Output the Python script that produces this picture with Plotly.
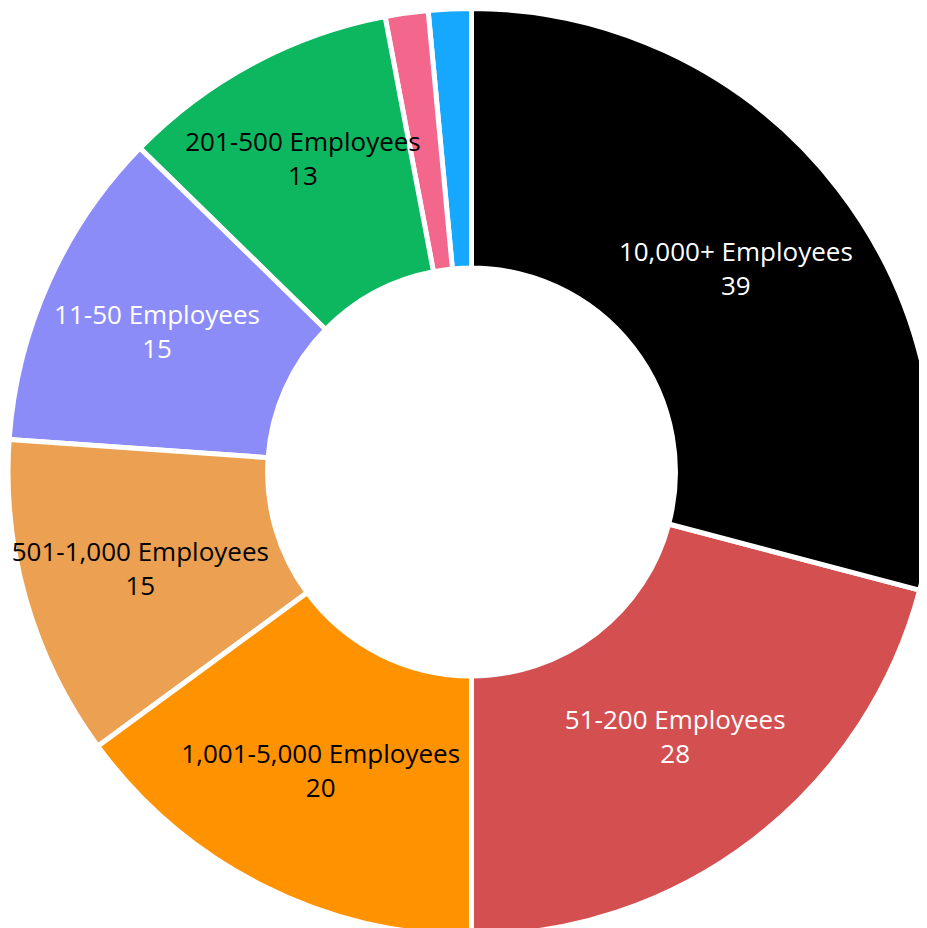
import plotly.graph_objects as go

# Listed in drawing order (counter-clockwise from 12 o'clock), so the
# 201-500 label is drawn above the thin neighbouring slices.
labels = ["1-10 Employees", "5,001-10,000 Employees", "201-500 Employees",
          "11-50 Employees", "501-1,000 Employees", "1,001-5,000 Employees",
          "51-200 Employees", "10,000+ Employees"]
values = [2, 2, 13, 15, 15, 20, 28, 39]
colors = ["#16a7ff", "#f2678b", "#0db760", "#8c8cf8", "#eca052", "#ff9200", "#d44f50", "#000000"]
text_colors = ["black", "black", "black", "white", "black", "black", "white", "white"]
show_text = [False, False, True, True, True, True, True, True]

templates = ["%{label}<br>%{value}" if s else "" for s in show_text]
first_angle = -360.0 * values[0] / sum(values)

fig = go.Figure(go.Pie(
    labels=labels,
    values=values,
    hole=0.44,
    sort=False,
    direction="counterclockwise",
    rotation=first_angle,
    marker=dict(colors=colors, line=dict(color="white", width=5)),
    texttemplate=templates,
    textposition="inside",
    insidetextorientation="horizontal",
    insidetextfont=dict(color=text_colors, size=26, family="Open Sans"),
    showlegend=False,
    domain=dict(x=[0, 1], y=[0, 1]),
))

fig.update_layout(
    width=927, height=928,
    margin=dict(l=0, r=0, t=0, b=0),
    paper_bgcolor="white",
    plot_bgcolor="white",
    uniformtext=dict(minsize=26, mode="show"),
)

fig.write_html("out.html")
